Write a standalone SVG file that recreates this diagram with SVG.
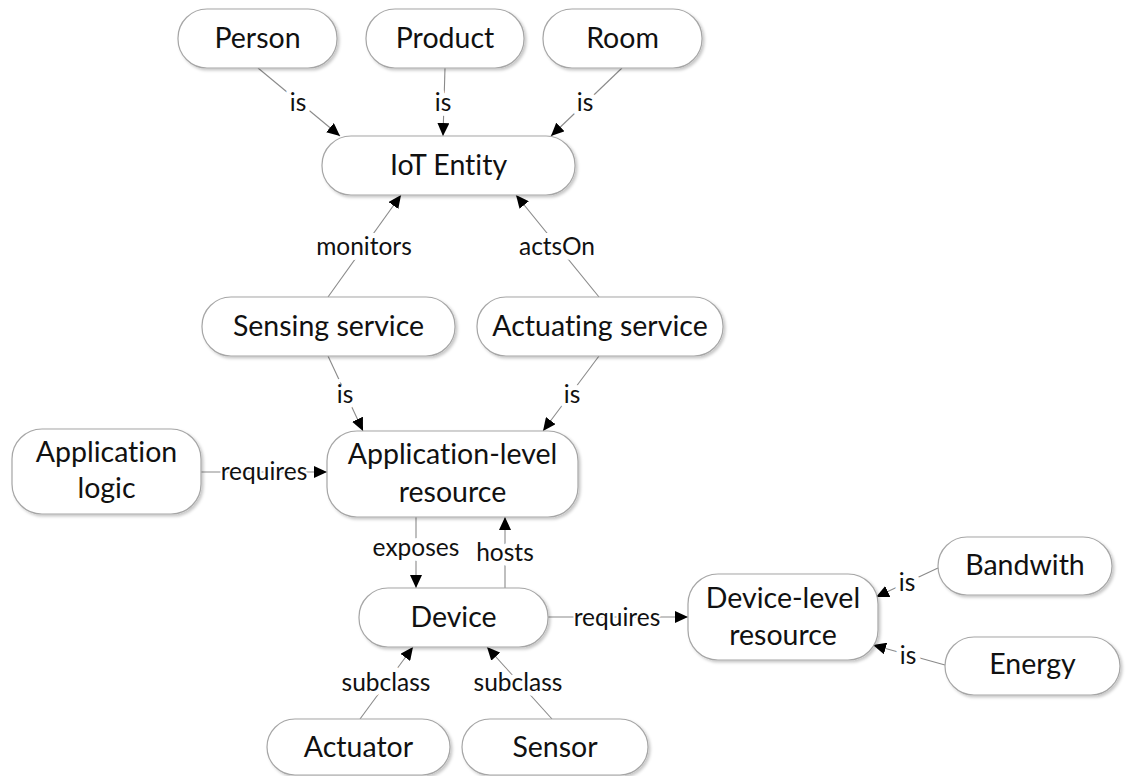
<svg xmlns="http://www.w3.org/2000/svg" width="1127" height="776" viewBox="0 0 1127 776">
<style>
.node rect{fill:#fff;stroke:#a6a6a6;stroke-width:1.2;filter:url(#sh)}
.node text{font-family:Lato,"Open Sans","Liberation Sans",sans-serif;font-size:28.5px;fill:#111;text-anchor:middle;font-variant-ligatures:none}
.edges line{stroke:#8a8a8a;stroke-width:1.1;marker-end:url(#arr)}
.edges text{font-family:Lato,"Open Sans","Liberation Sans",sans-serif;font-size:24.5px;fill:#111;text-anchor:middle;paint-order:stroke;stroke:#fff;stroke-width:10;stroke-linejoin:round;font-variant-ligatures:none}
</style>
<defs>
<filter id="sh" x="-10%" y="-20%" width="130%" height="150%">
<feDropShadow dx="2" dy="2" stdDeviation="1.5" flood-color="#000" flood-opacity="0.22"/>
</filter>
<marker id="arr" markerUnits="userSpaceOnUse" markerWidth="14" markerHeight="12" viewBox="0 0 14 12" refX="13" refY="6" orient="auto">
<path d="M0,0 L13,6 L0,12 Z" fill="#000"/>
</marker>
</defs>
<rect width="1127" height="776" fill="#fff"/>
<g class="edges" id="connectors">
<line x1="258" y1="68" x2="340" y2="136"/><text x="298" y="111">is</text>
<line x1="445" y1="68" x2="443" y2="136"/><text x="443" y="111">is</text>
<line x1="622" y1="68" x2="551" y2="136"/><text x="585" y="111">is</text>
<line x1="328" y1="297" x2="401" y2="195"/><text x="364" y="255">monitors</text>
<line x1="599" y1="297" x2="516" y2="195"/><text x="557" y="255">actsOn</text>
<line x1="328" y1="356" x2="363" y2="431"/><text x="345" y="403">is</text>
<line x1="599" y1="356" x2="543" y2="431"/><text x="572" y="403">is</text>
<line x1="201" y1="472" x2="327" y2="472"/><text x="264" y="480" style="stroke-width:4">requires</text>
<line x1="416" y1="517" x2="416" y2="588"/><text x="416" y="556">exposes</text>
<line x1="505" y1="588" x2="505" y2="517"/><text x="505" y="561">hosts</text>
<line x1="548" y1="617" x2="688" y2="617"/><text x="617" y="626" style="stroke-width:4">requires</text>
<line x1="938" y1="568" x2="876" y2="597"/><text x="907" y="591">is</text>
<line x1="945" y1="665" x2="873" y2="645"/><text x="908" y="664">is</text>
<line x1="360" y1="719" x2="413" y2="647"/><text x="386" y="691">subclass</text>
<line x1="552" y1="719" x2="487" y2="647"/><text x="518" y="691">subclass</text>
</g>
<g class="node" id="person"><rect x="178" y="9" width="159" height="59" rx="29"/><text x="257.5" y="48">Person</text></g>
<g class="node" id="product"><rect x="366" y="9" width="158" height="59" rx="29"/><text x="445" y="48">Product</text></g>
<g class="node" id="room"><rect x="543" y="9" width="159" height="59" rx="29"/><text x="622.5" y="48">Room</text></g>
<g class="node" id="iot-entity"><rect x="322" y="136" width="253" height="59" rx="29"/><text x="448.5" y="175">IoT Entity</text></g>
<g class="node" id="sensing-service"><rect x="202" y="297" width="253" height="59" rx="29"/><text x="328.5" y="336">Sensing service</text></g>
<g class="node" id="actuating-service"><rect x="477" y="297" width="246" height="59" rx="29"/><text x="600" y="336">Actuating service</text></g>
<g class="node" id="application-logic"><rect x="12" y="429" width="189" height="85" rx="30"/><text x="106.5" y="462">Application</text><text x="106.5" y="498">logic</text></g>
<g class="node" id="application-level-resource"><rect x="327" y="431" width="251" height="86" rx="30"/><text x="452.5" y="464">Application-level</text><text x="452.5" y="502">resource</text></g>
<g class="node" id="device"><rect x="359" y="588" width="189" height="59" rx="29"/><text x="453.5" y="627">Device</text></g>
<g class="node" id="device-level-resource"><rect x="688" y="574" width="190" height="86" rx="30"/><text x="783" y="608">Device-level</text><text x="783" y="645">resource</text></g>
<g class="node" id="bandwith"><rect x="938" y="537" width="174" height="58" rx="29"/><text x="1025" y="575">Bandwith</text></g>
<g class="node" id="energy"><rect x="945" y="637" width="175" height="58" rx="29"/><text x="1032.5" y="674">Energy</text></g>
<g class="node" id="actuator"><rect x="267" y="719" width="183" height="56" rx="28"/><text x="358.5" y="757">Actuator</text></g>
<g class="node" id="sensor"><rect x="462" y="719" width="186" height="56" rx="28"/><text x="555" y="757">Sensor</text></g>
</svg>
